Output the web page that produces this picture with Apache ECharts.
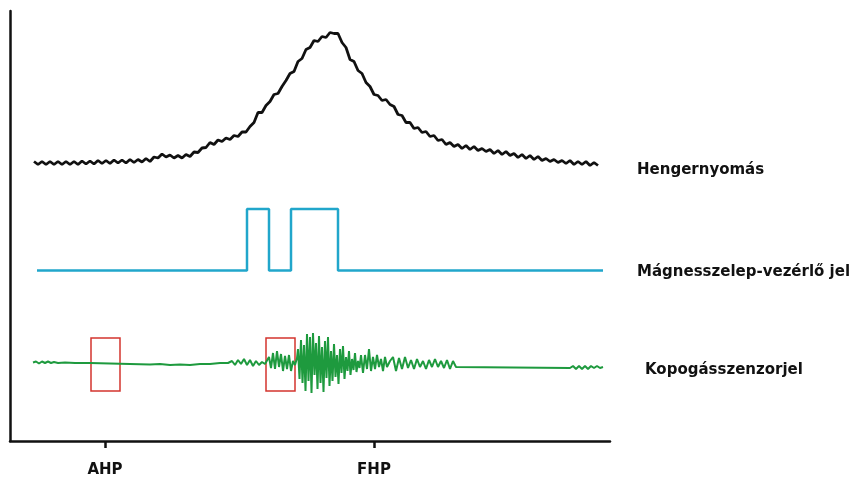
<!DOCTYPE html>
<html>
<head>
<meta charset="utf-8">
<script src="https://cdn.jsdelivr.net/npm/echarts@6/dist/echarts.min.js"></script>
<style>
  html, body { margin: 0; padding: 0; background: #fff; }
  #chart { width: 857px; height: 480px; }
</style>
</head>
<body>
<div id="chart"></div>
<script>
// crank position ticks
const tickValues = [95, 364]
const tickNames = ['AHP', 'FHP']

const seriesNames = ['Hengernyomás', 'Mágnesszelep-vezérlő jel', 'Kopogásszenzorjel']

// cylinder pressure trace [x, y]
const pressure = [
  [24, 279.5], [28, 276.5], [32, 279.5], [36, 276.5], [40, 279.5], [44, 276.5], [48, 279.5], [52, 276.5],
  [56, 279.5], [60, 276.5], [64, 279.5], [68, 276.5], [72, 280], [76, 277], [80, 280], [84, 277],
  [88, 280.5], [92, 277.5], [96, 280.5], [100, 277.5], [104, 281], [108, 278], [112, 281], [116, 278],
  [120, 281.5], [124, 278.5], [128, 281.5], [132, 279], [136, 282.5], [140, 279.5], [144, 284], [148, 283],
  [152, 287], [156, 284], [160, 286], [164, 283], [168, 285.5], [172, 283], [176, 286.5], [180, 284.5],
  [184, 289], [188, 288.5], [192, 293], [196, 293.5], [200, 298.5], [204, 296.5], [208, 301], [212, 299.5],
  [216, 303], [220, 301.5], [224, 305.5], [228, 304.5], [232, 309], [236, 309], [240, 314.5], [244, 318.5],
  [248, 328.5], [252, 328.5], [256, 335.5], [260, 339.5], [264, 346.5], [268, 347.5], [272, 354.5], [276, 360.5],
  [280, 367.5], [284, 369.5], [288, 379.5], [292, 382.5], [296, 391.5], [300, 393.5], [304, 400.5], [308, 399.5],
  [312, 404.5], [316, 403.5], [320, 408.5], [324, 407.5], [328, 407.5], [332, 398.5], [336, 393.5], [340, 381.5],
  [344, 379.5], [348, 370.5], [352, 367.5], [356, 358.5], [360, 354.5], [364, 346.5], [368, 345.5], [372, 340.5],
  [376, 341.5], [380, 336.5], [384, 334.5], [388, 326.5], [392, 325.5], [396, 318.5], [400, 318.5], [404, 312.5],
  [408, 313.5], [412, 308.5], [416, 309.5], [420, 304.5], [424, 305.5], [428, 300.5], [432, 301.5], [436, 296.5],
  [440, 298.5], [444, 294.5], [448, 296.5], [452, 292.5], [456, 295.5], [460, 291.5], [464, 294.5], [468, 290.5],
  [472, 292.5], [476, 289.5], [480, 291.5], [484, 287.5], [488, 290.5], [492, 286.5], [496, 289.5], [500, 285.5],
  [504, 287.5], [508, 283.5], [512, 286.5], [516, 282.5], [520, 285.5], [524, 281.5], [528, 284.5], [532, 280.5],
  [536, 282.5], [540, 279.5], [544, 281.5], [548, 278.5], [552, 280.5], [556, 277.5], [560, 280.5], [564, 276.5],
  [568, 279.5], [572, 276.5], [576, 279.5], [580, 275.5], [584, 278.5], [588, 275.5]
]

// injector (solenoid valve) control signal
const injector = [
  [27, 170.5], [237, 170.5], [237, 232], [259, 232], [259, 170.5],
  [281, 170.5], [281, 232], [328, 232], [328, 170.5], [593, 170.5]
]

// knock sensor signal
const knock = [
  [23, 78.5], [26, 79.5], [29, 77.5], [32, 79.5], [35, 78], [38, 79.5], [41, 78], [44, 79], [48, 78],
  [55, 78.5], [65, 78], [80, 78], [100, 77.5], [120, 77], [140, 76.5], [150, 77], [160, 76], [170, 76.5],
  [180, 76], [190, 77], [200, 77], [210, 78], [218, 78], [222, 80], [225, 76], [228, 81], [231, 77],
  [234, 82], [237, 76], [240, 81], [243, 75], [246, 80], [249, 76], [252, 79], [255, 77], [257, 78],
  [259, 84], [261, 73], [263, 88], [265, 72], [267, 90], [269, 74], [271, 87], [273, 70], [275, 85],
  [277, 72], [279, 86], [281, 70], [283, 80], [285, 76], [287, 83],
  [288, 92], [289.5, 62], [291, 101], [292.5, 58], [294, 96], [295.5, 50], [297, 107], [298.5, 60],
  [300, 104], [301.5, 48], [303, 108], [304.5, 66], [306, 98], [307.5, 52], [309, 105], [310.5, 58],
  [312, 94], [313.5, 49], [315, 100], [316.5, 63], [318, 104], [319.5, 55], [321, 90], [322.5, 60],
  [324, 97], [325.5, 64], [327, 86], [328.5, 57], [330, 92], [331.5, 68], [333, 95], [334.5, 62],
  [336, 84], [337.5, 70], [339, 90], [340.5, 66], [342, 82], [343.5, 71], [345, 88], [346.5, 69],
  [348, 80], [349.5, 73], [351, 86],
  [353, 68], [355, 86], [357, 72], [359, 92], [361, 70], [363, 84], [365, 72], [367, 86],
  [369, 74], [371, 82], [373, 70], [375, 84], [377, 74], [380, 80],
  [383, 84], [386, 70], [389, 83], [392, 72], [395, 84], [398, 73], [401, 81], [404, 72], [407, 82],
  [410, 74], [413, 80], [416, 72], [419, 81], [422, 74], [425, 82], [428, 74], [431, 80], [434, 73],
  [437, 81], [440, 72], [443, 80], [446, 74], [448, 73],
  [560, 73], [563, 75], [566, 72], [569, 75], [572, 72], [575, 75], [578, 72], [581, 75], [584, 73],
  [587, 75], [590, 73], [593, 74]
]

// measurement windows on the knock signal [x0, y0, x1, y1]
const windows = [
  [81, 50, 110, 103],
  [256, 50, 285, 103]
]

const chart = echarts.init(document.getElementById('chart'))

const labelFont = {
  fontFamily: 'DejaVu Sans',
  fontWeight: 'bold',
  fontSize: 15,
  color: '#111'
}

chart.setOption({
  animation: false,
  grid: {
    left: 10,
    right: 247,
    top: 11,
    bottom: 39
  },
  xAxis: {
    type: 'value',
    min: 0,
    max: 600,
    splitLine: { show: false },
    axisLine: {
      show: true,
      lineStyle: { color: '#111', width: 2.5 }
    },
    axisTick: {
      show: true,
      customValues: tickValues,
      length: 7,
      lineStyle: { color: '#111', width: 2.5 }
    },
    axisLabel: {
      customValues: tickValues,
      margin: 22,
      formatter: v => tickNames[tickValues.indexOf(v)] || '',
      ...labelFont
    }
  },
  yAxis: {
    type: 'value',
    min: 0,
    max: 430,
    splitLine: { show: false },
    axisLabel: { show: false },
    axisTick: { show: false },
    axisLine: {
      show: true,
      lineStyle: { color: '#111', width: 2.5 }
    }
  },
  series: [
    {
      name: seriesNames[0],
      type: 'line',
      data: pressure,
      showSymbol: false,
      lineStyle: { color: '#111', width: 2.8 },
      endLabel: {
        show: true,
        formatter: seriesNames[0],
        distance: 39,
        offset: [0, 4.5],
        ...labelFont
      }
    },
    {
      name: seriesNames[1],
      type: 'line',
      data: injector,
      showSymbol: false,
      lineStyle: { color: '#21a6cb', width: 2.5 },
      endLabel: {
        show: true,
        formatter: seriesNames[1],
        distance: 34,
        offset: [0, 1.5],
        ...labelFont
      }
    },
    {
      name: seriesNames[2],
      type: 'line',
      data: knock,
      showSymbol: false,
      lineStyle: { color: '#1e9a3e', width: 2 },
      endLabel: {
        show: true,
        formatter: seriesNames[2],
        distance: 42,
        offset: [0, 3],
        ...labelFont
      },
      markArea: {
        silent: true,
        itemStyle: {
          color: 'rgba(0,0,0,0)',
          borderColor: '#d3342e',
          borderWidth: 1.5
        },
        data: windows.map(w => [{ coord: [w[0], w[1]] }, { coord: [w[2], w[3]] }])
      }
    }
  ]
})
</script>
</body>
</html>
